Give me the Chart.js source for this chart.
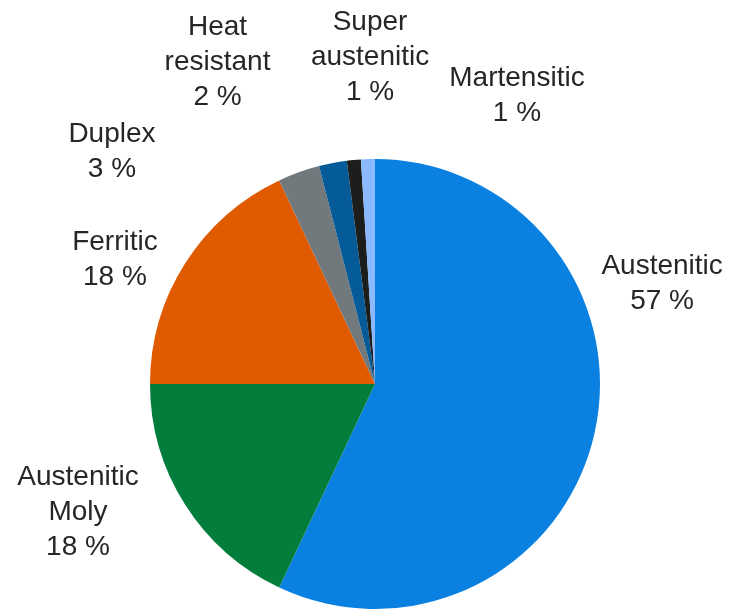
<!DOCTYPE html>
<html>
<head>
<meta charset="utf-8">
<script src="https://cdn.jsdelivr.net/npm/chart.js@4.4.0/dist/chart.umd.min.js"></script>
<style>
  html, body { margin: 0; padding: 0; background: #fff; }
  #wrap { position: relative; width: 733px; height: 610px; }
</style>
</head>
<body>
<div id="wrap"><canvas id="pie"></canvas></div>
<script>
// stainless steel production by family, share in percent
const categories = ['Austenitic', 'Austenitic Moly', 'Ferritic', 'Duplex', 'Heat resistant', 'Super austenitic', 'Martensitic'];
const labelLines = [['Austenitic'], ['Austenitic', 'Moly'], ['Ferritic'], ['Duplex'], ['Heat', 'resistant'], ['Super', 'austenitic'], ['Martensitic']];
const shares = [57, 18, 18, 3, 2, 1, 1];
const sliceColors = ['#0a80e1', '#037d3c', '#e05a00', '#72797c', '#045b98', '#1c1e1c', '#8bb9ff'];

// label block centres, in units of the pie radius from its centre
const labelOffsets = [
  [1.276, -0.444], [-1.32, 0.569], [-1.156, -0.551], [-1.169, -1.031],
  [-0.70, -1.431], [-0.022, -1.453], [0.631, -1.28]
];

const pieLabels = {
  id: 'pieLabels',
  afterDraw(chart) {
    const ctx = chart.ctx;
    const arc = chart.getDatasetMeta(0).data[0];
    const cx = arc.x, cy = arc.y, r = arc.outerRadius;
    const lineH = 35;
    ctx.save();
    ctx.font = '28px "Liberation Sans", Arial, sans-serif';
    ctx.fillStyle = '#262626';
    ctx.textAlign = 'center';
    ctx.textBaseline = 'middle';
    categories.forEach((c, i) => {
      const lines = labelLines[i].concat([shares[i] + ' %']);
      const x = cx + labelOffsets[i][0] * r;
      const y0 = cy + labelOffsets[i][1] * r - (lines.length - 1) * lineH / 2;
      lines.forEach((t, k) => ctx.fillText(t, x, y0 + k * lineH));
    });
    ctx.restore();
  }
};

new Chart(document.getElementById('pie'), {
  type: 'pie',
  data: {
    labels: categories,
    datasets: [{
      data: shares,
      backgroundColor: sliceColors,
      borderWidth: 0
    }]
  },
  options: {
    responsive: true,
    maintainAspectRatio: false,
    animation: false,
    layout: { padding: { left: 150, right: 133, top: 159, bottom: 1 } },
    plugins: {
      legend: { display: false },
      tooltip: { enabled: false }
    }
  },
  plugins: [pieLabels]
});
</script>
</body>
</html>
